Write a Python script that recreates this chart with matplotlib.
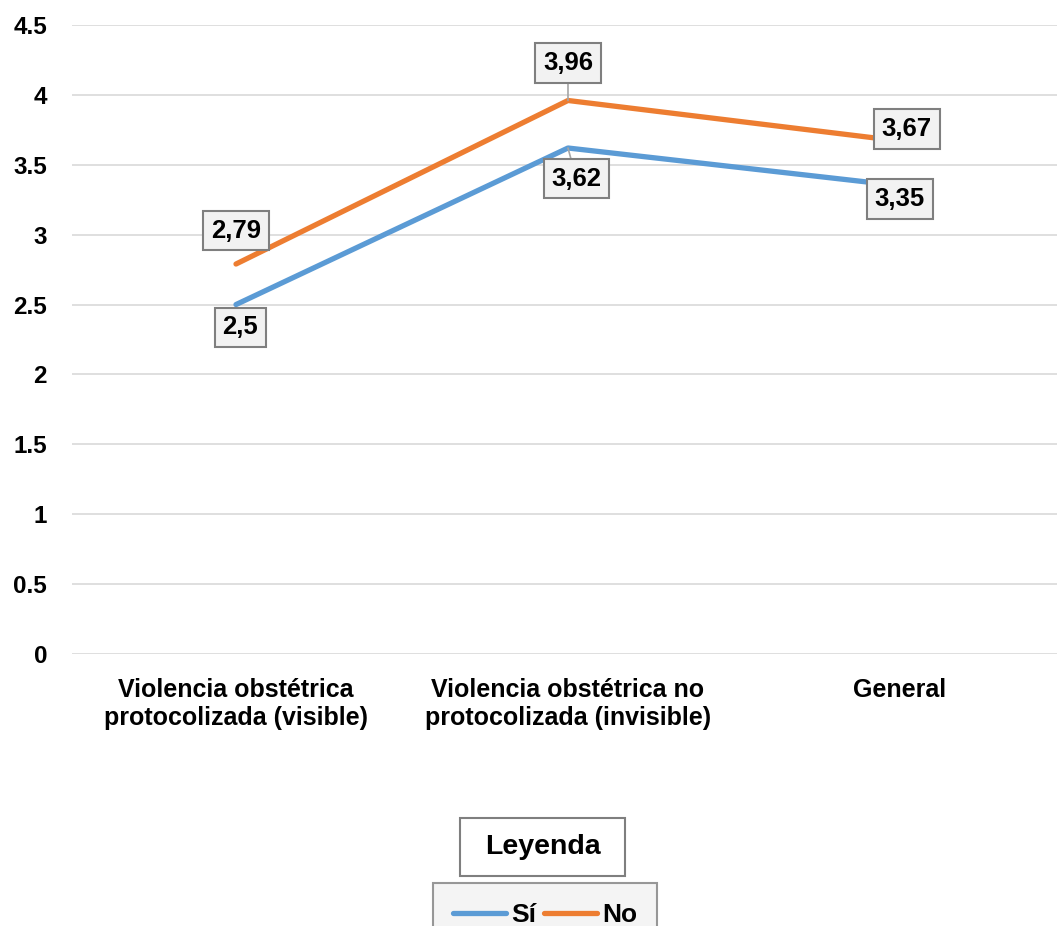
import matplotlib
matplotlib.use("Agg")
import matplotlib.pyplot as plt
from matplotlib.patches import Rectangle

plt.rcParams['font.family'] = ['Liberation Sans', 'DejaVu Sans']

categories = ["Violencia obstétrica\nprotocolizada (visible)",
              "Violencia obstétrica no\nprotocolizada (invisible)",
              "General"]
si_values = [2.5, 3.62, 3.35]
no_values = [2.79, 3.96, 3.67]
si_labels = ["2,5", "3,62", "3,35"]
no_labels = ["2,79", "3,96", "3,67"]
yticks = [0, 0.5, 1, 1.5, 2, 2.5, 3, 3.5, 4, 4.5]
ytick_labels = ["0", "0.5", "1", "1.5", "2", "2.5", "3", "3.5", "4", "4.5"]

W, H = 1057, 926
fig = plt.figure(figsize=(W / 100, H / 100), dpi=100)
ax = fig.add_axes([72 / W, 1 - 654 / H, (1057 - 72) / W, (654 - 25) / H])

x = list(range(len(categories)))
blue = "#5b9bd5"
orange = "#ed7d31"
ax.plot(x, si_values, color=blue, lw=3.8, solid_capstyle='round', label="Sí", zorder=3)
ax.plot(x, no_values, color=orange, lw=3.8, solid_capstyle='round', label="No", zorder=3)

ax.set_xlim(-0.494, 2.473)
ax.set_ylim(0, 4.5)
ax.set_yticks(yticks)
ax.set_yticklabels(ytick_labels, fontsize=17.5, fontweight='bold')
ax.set_xticks(x)
ax.set_xticklabels(categories, fontsize=18, fontweight='bold', linespacing=1.25)
ax.tick_params(axis='y', length=0, pad=18)
ax.tick_params(axis='x', length=0, pad=17)
ax.grid(axis='y', color='#d9d9d9', lw=1.2)
ax.set_axisbelow(True)
for s in ax.spines.values():
    s.set_visible(False)

box = dict(boxstyle='square,pad=0.3', fc='#f2f2f2', ec='#7f7f7f', lw=1.5)
# offsets in points
no_offsets = [(0, 24), (0, 27), (5, 8.6)]
si_offsets = [(3, -16.5), (6, -22), (0, -9.4)]
lead = dict(arrowstyle='-', color='#a6a6a6', lw=1.2, shrinkA=0, shrinkB=0)
for i in range(3):
    ax.annotate(no_labels[i], (x[i], no_values[i]), xytext=no_offsets[i], textcoords='offset points',
                ha='center', va='center', fontsize=18.5, fontweight='bold', bbox=box, zorder=5,
                arrowprops=lead if i == 1 else None)
    ax.annotate(si_labels[i], (x[i], si_values[i]), xytext=si_offsets[i], textcoords='offset points',
                ha='center', va='center', fontsize=18.5, fontweight='bold', bbox=box, zorder=5,
                arrowprops=lead if i == 1 else None)

fig.patches.append(Rectangle((460 / W, 1 - 876 / H), 165 / W, 58 / H, transform=fig.transFigure,
                             fc='white', ec='#7f7f7f', lw=1.5))
fig.text(542.5 / W, 1 - 847 / H, "Leyenda", ha='center', va='center', fontsize=20.5, fontweight='bold')

leg = fig.legend(loc='upper center', bbox_to_anchor=(545 / W, 1 - 883 / H), ncol=2,
                 prop=dict(size=19, weight='bold'), frameon=True, fancybox=False,
                 handlelength=2.0, handletextpad=0.2, columnspacing=0.3,
                 borderpad=0.75, borderaxespad=0)
leg.get_frame().set_edgecolor('#7f7f7f')
leg.get_frame().set_facecolor('#f2f2f2')
leg.get_frame().set_linewidth(1.5)

fig.savefig("out.png", dpi=100)
